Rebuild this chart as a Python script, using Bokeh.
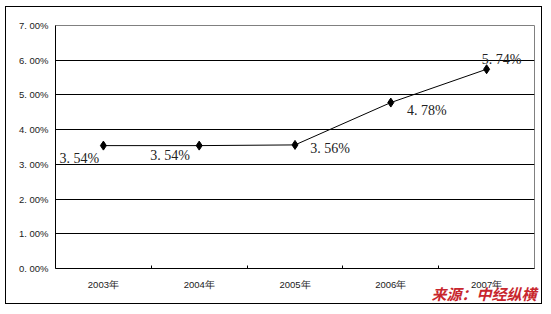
from bokeh.plotting import figure
from bokeh.models import FixedTicker, ColumnDataSource, Range1d, Title
from bokeh.core.properties import value
from bokeh.embed import file_html
from bokeh.resources import INLINE

# ---- data ----
years = ["2003年", "2004年", "2005年", "2006年", "2007年"]
rates = [3.54, 3.54, 3.56, 4.78, 5.74]          # percent
rate_labels = ["3. 54%", "3. 54%", "3. 56%", "4. 78%", "5. 74%"]
y_ticks = [0, 1, 2, 3, 4, 5, 6, 7]
y_tick_labels = ["0. 00%", "1. 00%", "2. 00%", "3. 00%", "4. 00%", "5. 00%", "6. 00%", "7. 00%"]
source_text = "来源：中经纵横"

# label placement (screen pixel offsets, style only)
label_dx = [-24, -29, 35, 36, 15]
label_dy = [13, 10, 4, 8, -10]

xs = [i + 0.5 for i in range(len(years))]

p = figure(width=537, height=298, output_backend="svg", toolbar_location=None,
           x_range=Range1d(0, len(years)), y_range=Range1d(0, 7),
           min_border_left=49, min_border_right=9, min_border_top=18, min_border_bottom=37,
           margin=(6, 0, 0, 5))
p.background_fill_color = "white"
p.border_fill_color = "white"
p.outline_line_color = "#808080"
p.outline_line_width = 1
p.styles = {"border": "1px solid black"}

# axes
p.xaxis.ticker = FixedTicker(ticks=xs, minor_ticks=list(range(1, len(years))))
p.xaxis.major_label_overrides = {x: y for x, y in zip(xs, years)}
p.xaxis.major_tick_in = 0
p.xaxis.major_tick_out = 0
p.xaxis.minor_tick_in = 3
p.xaxis.minor_tick_out = 0
p.xaxis.minor_tick_line_color = "black"
p.xaxis.axis_line_color = "black"
p.xaxis.major_label_text_font = "Liberation Sans"
p.xaxis.major_label_text_font_size = "9.5px"
p.xaxis.major_label_text_color = "#1a1a1a"
p.xaxis.major_label_standoff = 10

p.yaxis.ticker = FixedTicker(ticks=y_ticks, minor_ticks=[])
p.yaxis.major_label_overrides = {t: l for t, l in zip(y_ticks, y_tick_labels)}
p.yaxis.major_tick_in = 0
p.yaxis.major_tick_out = 0
p.yaxis.axis_line_color = "black"
p.yaxis.major_label_text_font = "Liberation Sans"
p.yaxis.major_label_text_font_size = "9.5px"
p.yaxis.major_label_text_color = "#1a1a1a"
p.yaxis.major_label_standoff = 7

p.xgrid.visible = False
p.ygrid.ticker = FixedTicker(ticks=y_ticks[1:-1])
p.ygrid.grid_line_color = "black"
p.ygrid.grid_line_width = 1

src = ColumnDataSource(dict(x=xs, y=rates, t=rate_labels, dx=label_dx, dy=label_dy))
p.line("x", "y", source=src, line_color="black", line_width=1)
p.scatter("x", "y", source=src, marker="diamond", size=9, fill_color="black", line_color="black")
p.text("x", "y", text="t", source=src, x_offset="dx", y_offset="dy",
       text_align="center", text_baseline="middle",
       text_font=value("Liberation Serif"), text_font_size="14px", text_color="#222222")

p.add_layout(Title(text=source_text, align="right", standoff=-23, offset=-2,
                   text_font="Noto Sans CJK SC", text_font_style="bold italic",
                   text_font_size="15px", text_color="#c8262d"), "below")

open("out.html", "w").write(file_html(p, INLINE))
